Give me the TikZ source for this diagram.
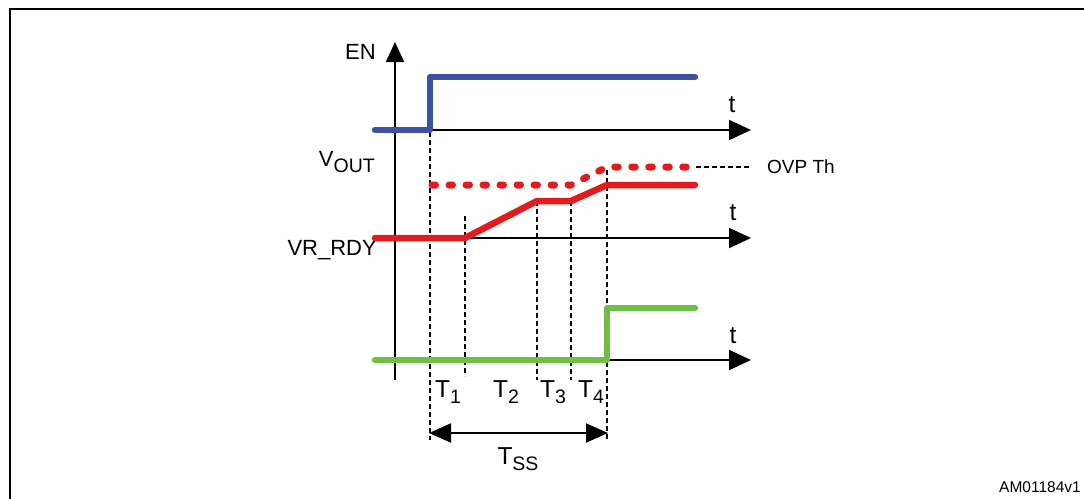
\documentclass[tikz,border=0pt]{standalone}
\usepackage{fontspec}
\setmainfont{Liberation Sans}
\usetikzlibrary{arrows.meta}
\definecolor{enblue}{HTML}{3D52A3}
\definecolor{vred}{HTML}{E41A1C}
\definecolor{rgreen}{HTML}{70BE44}
\newcommand{\lowsub}[1]{\raisebox{-6pt}{\fontsize{19.5}{19.5}\selectfont #1}}
\tikzset{
  axis/.style={line width=2pt,-{Triangle[length=22pt,width=20pt]}},
  vaxis/.style={line width=2pt,-{Triangle[length=20pt,width=18pt]}},
  guide/.style={line width=1.5pt,dash pattern=on 5pt off 3pt},
  sig/.style={line width=6.5pt,line cap=round,line join=round},
  dotsig/.style={line width=7pt,line cap=round,dash pattern=on 3.5pt off 13.5pt,color=vred},
  lbl/.style={inner sep=0pt,font=\fontsize{22}{26}\selectfont},
  tlbl/.style={inner sep=0pt,font=\fontsize{24.5}{28}\selectfont},
}
\begin{document}
\begin{tikzpicture}[x=1pt,y=-1pt]
\useasboundingbox (0,0) rectangle (1084,498);
\fill[white] (0,0) rectangle (1084,498);
% frame
\draw[line width=2.5pt] (10,520) -- (10,9) -- (1100,9);
% coordinates
\coordinate (o) at (395,380);
\coordinate (otop) at (395,42);
\coordinate (a1s) at (430,130);
\coordinate (a1e) at (751,130);
\coordinate (a2s) at (465,238);
\coordinate (a2e) at (751,238);
\coordinate (a3s) at (607,360);
\coordinate (a3e) at (751,360);
% vertical axis
\draw[vaxis] (o) -- (otop);
\node[lbl,anchor=east] (en) at (376,52) {EN};
\node[lbl,anchor=east] (vout) at (375,162) {V\lowsub{OUT}};
\node[lbl,anchor=east] (vrrdy) at (377,250) {VR\_RDY};
% horizontal axes
\draw[axis] (a1s) -- (a1e);
\draw[axis] (a2s) -- (a2e);
\draw[axis] (a3s) -- (a3e);
\node[tlbl] (t1) at (732,105) {t};
\node[tlbl] (t2) at (733,213) {t};
\node[tlbl] (t3) at (733,336) {t};
% guides
\draw[guide] (430,132) -- (430,440);
\draw[guide] (465,216) -- (465,376);
\draw[guide] (537,201) -- (537,380);
\draw[guide] (571,201) -- (571,380);
\draw[guide] (607,170) -- (607,440);
\draw[guide] (696,167) -- (751,167);
\node[inner sep=0pt,anchor=west,font=\fontsize{19}{22}\selectfont] (ovp) at (767,167) {OVP Th};
% signals
\draw[sig,enblue] (375,130) -- (430,130) -- (430,77) -- (695,77);
\draw[dotsig] (432,185) -- (571,185) -- (607,167) -- (697,167);
\draw[sig,vred] (375,238) -- (465,238) -- (537,201) -- (571,201) -- (607,185) -- (695,185);
\draw[sig,rgreen] (375,360) -- (607,360) -- (607,308) -- (695,308);
% time labels
\node[tlbl] (T1) at (448,392) {T\lowsub{1}};
\node[tlbl] (T2) at (506,392) {T\lowsub{2}};
\node[tlbl] (T3) at (553,392) {T\lowsub{3}};
\node[tlbl] (T4) at (591,392) {T\lowsub{4}};
\coordinate (ssL) at (429,433);
\coordinate (ssR) at (608,433);
\draw[line width=2pt,{Triangle[length=22pt,width=19pt]}-{Triangle[length=22pt,width=19pt]}] (ssL) -- (ssR);
\node[tlbl] (tss) at (518,459) {T\lowsub{SS}};
\node[inner sep=0pt,anchor=east,font=\fontsize{15.5}{18}\selectfont] (am) at (1081,487) {AM01184v1};
\end{tikzpicture}
\end{document}
